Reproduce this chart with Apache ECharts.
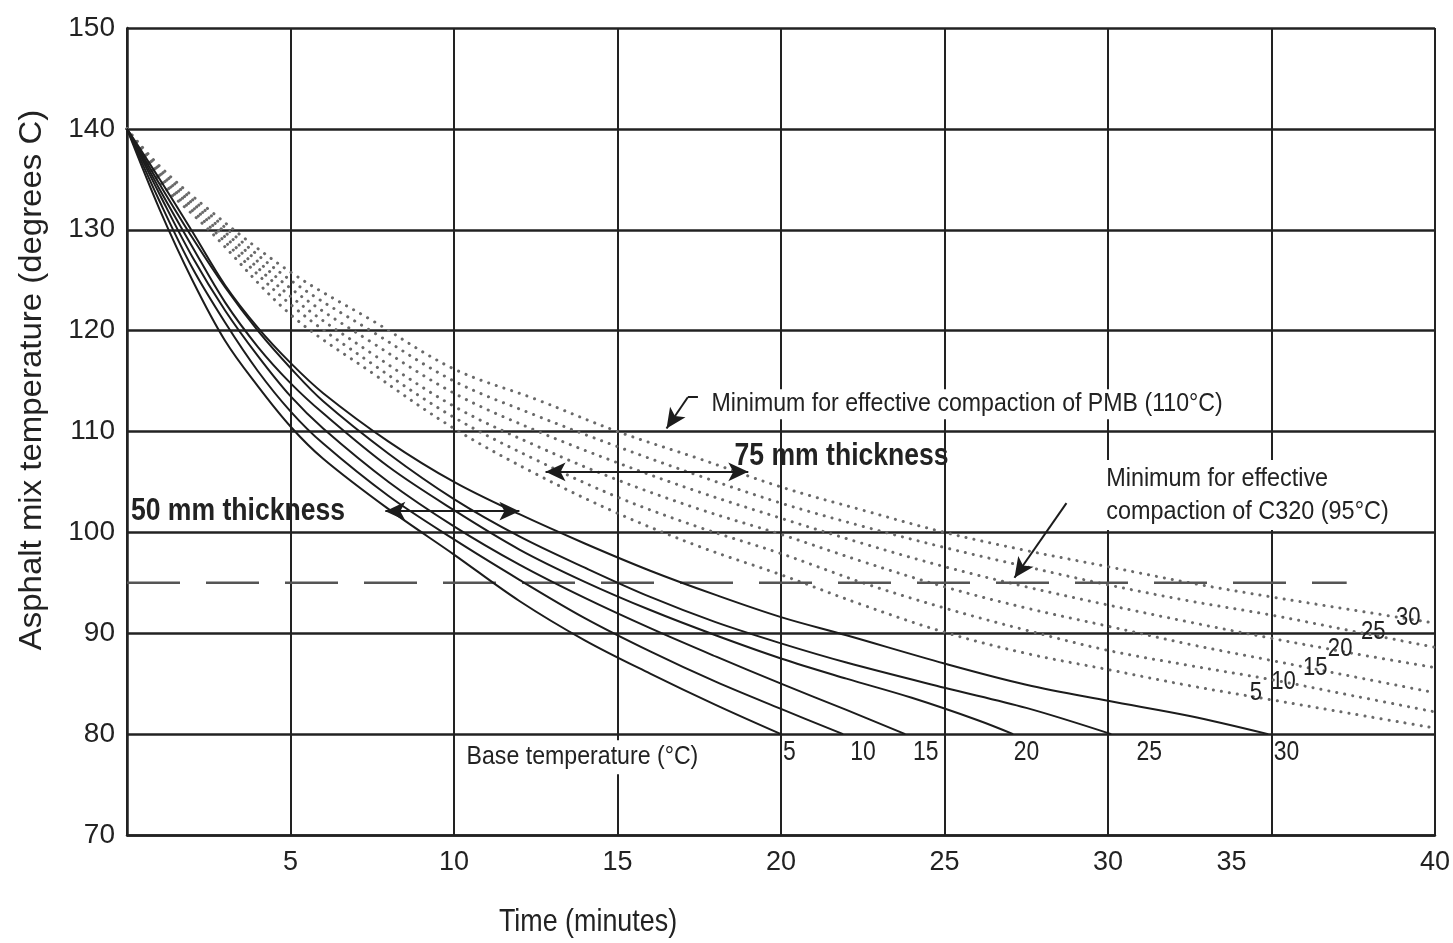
<!DOCTYPE html>
<html>
<head>
<meta charset="utf-8">
<title>Asphalt mix temperature vs time</title>
<script src="https://cdn.jsdelivr.net/npm/echarts@6/dist/echarts.min.js"></script>
<style>
html, body { margin: 0; padding: 0; background: #fff; }
#chart { width: 1453px; height: 943px; }
</style>
</head>
<body>
<div id="chart"></div>
<script>
var font = "'Liberation Sans', Arial, sans-serif";

// 50 mm thickness, one curve per base temperature: [minutes, degrees C]
var thin5  = [[0,140],[1,132],[2,125],[3,119],[4,114.5],[5,110.5],[6,107.3],[8,102.3],[10,97.8],[12,93.2],[14,89.3],[16,86],[18,82.9],[20,80]];
var thin10 = [[0,140],[1,132.8],[2,126.2],[3,120.8],[4,116],[5,112],[6,108.8],[8,103.6],[10,99.3],[12,95.3],[14,91.5],[16,88.2],[18,85.2],[20,82.5],[21.9,80]];
var thin15 = [[0,140],[1,133.5],[2,127.3],[3,122],[4,117.5],[5,113.5],[6,110.3],[8,105],[10,100.6],[12,96.8],[14,93.5],[16,90.5],[18,87.7],[20,85],[22,82.4],[23.8,80]];
var thin20 = [[0,140],[1,134],[2,128.3],[3,122.8],[4,118.4],[5,114.8],[6,111.8],[8,106.5],[10,102.2],[12,98.3],[14,95.1],[16,92.3],[18,89.8],[20,87.5],[22,85.5],[24,83.6],[26,81.4],[27.1,80]];
var thin25 = [[0,140],[1,134.5],[2,129.2],[3,124.3],[4,120],[5,116.3],[6,113],[8,107.8],[10,103.3],[12,99.6],[14,96.5],[16,93.6],[18,91.1],[20,89],[22,87.1],[25,84.6],[27.5,82.6],[30.1,80]];
var thin30 = [[0,140],[1,135],[2,129.8],[3,124.5],[4,120.3],[5,116.8],[6,113.8],[8,109],[10,105],[12,101.8],[14,98.9],[16,96.2],[18,93.8],[20,91.6],[22,89.8],[25,87],[27.5,84.9],[30,83.3],[32.5,81.8],[34.9,80]];

// 75 mm thickness
var thick5  = [[0,140],[1,134.8],[2.5,130],[5,121.6],[7.5,115.8],[10,110.3],[12.5,105.8],[15,101.9],[17.5,98.6],[20,95.8],[22.5,92.8],[25,90.1],[27.5,88],[30,86.4],[32.5,84.8],[35,83.4],[37.5,82],[40,80.6]];
var thick10 = [[0,140],[1,135.1],[2.5,130.4],[5,122.6],[7.5,116.7],[10,111.4],[12.5,107.2],[15,103.5],[17.5,100.5],[20,97.9],[22.5,95],[25,92.5],[27.5,90.3],[30,88.3],[32.5,86.8],[35,85.4],[37.5,83.8],[40,82.2]];
var thick15 = [[0,140],[1,135.4],[2.5,130.8],[5,123.4],[7.5,117.7],[10,112.5],[12.5,108.6],[15,105.2],[17.5,102.3],[20,99.8],[22.5,97.1],[25,94.6],[27.5,92.5],[30,90.7],[32.5,88.9],[35,87.3],[37.5,85.7],[40,84.1]];
var thick20 = [[0,140],[1,135.7],[2.5,131.2],[5,124.2],[7.5,118.8],[10,113.8],[12.5,110.1],[15,106.9],[17.5,104],[20,101.4],[22.5,98.9],[25,96.6],[27.5,94.6],[30,92.8],[32.5,91.1],[35,89.5],[37.5,88],[40,86.6]];
var thick25 = [[0,140],[1,136],[2.5,131.6],[5,125],[7.5,119.9],[10,115],[12.5,111.6],[15,108.5],[17.5,105.6],[20,102.9],[22.5,100.6],[25,98.5],[27.5,96.6],[30,94.8],[32.5,93.2],[35,91.8],[37.5,90.2],[40,88.6]];
var thick30 = [[0,140],[1,136.3],[2.5,132],[5,125.8],[7.5,121],[10,116.2],[12.5,113.2],[15,110],[17.5,107.3],[20,104.5],[22.5,102.2],[25,100],[27.5,98.2],[30,96.6],[32.5,95],[35,93.6],[37.5,92.3],[40,91]];

// C320 compaction limit (dashed)
var c320Line = [[0,95],[37.3,95]];

var baseTemps = ['5','10','15','20','25','30'];
var thinCurves = [thin5, thin10, thin15, thin20, thin25, thin30];
var thickCurves = [thick5, thick10, thick15, thick20, thick25, thick30];

var chart = echarts.init(document.getElementById('chart'));

var series = [];
thinCurves.forEach(function (d, i) {
    series.push({
        name: '50 mm ' + baseTemps[i], type: 'line', data: d, smooth: 0.35,
        symbol: 'none', z: 4,
        lineStyle: { color: '#1c1c1c', width: 2 }
    });
});
thickCurves.forEach(function (d, i) {
    series.push({
        name: '75 mm ' + baseTemps[i], type: 'line', data: d, smooth: 0.35,
        symbol: 'none', z: 3,
        lineStyle: { color: '#6a6a6a', width: 3, type: [0.1, 8], cap: 'round' }
    });
});
series.push({
    name: 'C320', type: 'line', data: c320Line, symbol: 'none', z: 3,
    lineStyle: { color: '#555', width: 2.5, type: [53, 26] },
    markLine: {
        silent: true, symbol: ['arrow', 'arrow'], symbolSize: [14, 20],
        label: { show: false },
        lineStyle: { color: '#1c1c1c', width: 2, type: 'solid' },
        data: [
            [{ coord: [7.9, 102.1] }, { coord: [12.0, 102.1] }],
            [{ coord: [12.8, 106.0] }, { coord: [19.0, 106.0] }],
            [{ coord: [17.46, 113.4], symbol: 'none' }, { coord: [17.15, 113.4], symbol: 'none' }],
            [{ coord: [17.15, 113.4], symbol: 'none' }, { coord: [16.5, 110.3], symbol: 'arrow' }],
            [{ coord: [28.73, 102.9], symbol: 'none' }, { coord: [27.14, 95.5], symbol: 'arrow' }]
        ]
    }
});

var option = {
    backgroundColor: '#fff',
    animation: false,
    grid: { left: 127, right: 13, top: 28, bottom: 108 },
    xAxis: {
        type: 'value', min: 0, max: 40, interval: 5,
        axisLine: { lineStyle: { color: '#222', width: 2.5 } },
        axisTick: { show: false },
        splitLine: { lineStyle: { color: '#222', width: 2 } },
        axisLabel: {
            margin: 14, color: '#222', fontSize: 27, fontFamily: font,
            formatter: function (v) {
                if (v === 0) return '';
                if (v === 35) return '{l|35}';
                if (v === 40) return '{u|40}';
                return String(v);
            },
            rich: {
                l: { fontSize: 27, fontFamily: font, color: '#222', padding: [0, 80, 0, 0] },
                u: { fontSize: 27, fontFamily: font, color: '#222', padding: [0, 0, 12, 0] }
            }
        }
    },
    yAxis: {
        type: 'value', min: 70, max: 150, interval: 10,
        axisLine: { show: true, lineStyle: { color: '#222', width: 2.5 } },
        axisTick: { show: false },
        splitLine: { lineStyle: { color: '#222', width: 2.5 } },
        axisLabel: { margin: 12, color: '#222', fontSize: 28, fontFamily: font }
    },
    series: series
};
chart.setOption(option);

function px(t, T) { return chart.convertToPixel({ gridIndex: 0 }, [t, T]); }

// text placed at a data position, squeezed horizontally like the condensed original type
function label(t, T, text, style, align, squeeze) {
    var p = px(t, T);
    return {
        type: 'text', x: p[0], y: p[1], z: 100, scaleX: squeeze || 0.88,
        style: Object.assign({
            text: text, fill: '#222', align: align || 'left', verticalAlign: 'middle',
            fontFamily: font
        }, style)
    };
}

var note = { fontSize: 26 };
var bold = { fontSize: 32, fontWeight: 'bold' };
var small = { fontSize: 27 };

var graphics = [
    label(0.12, 102.1, '50 mm thickness', bold, 'left', 0.83),
    label(18.58, 107.6, '75 mm thickness', bold, 'left', 0.83),
    label(17.82, 112.7, 'Minimum for effective compaction of PMB (110°C)',
        Object.assign({ backgroundColor: '#fff', padding: [2, 2] }, note), 'left', 0.89),
    label(29.89, 103.7, 'Minimum for effective\ncompaction of C320 (95°C)',
        Object.assign({ backgroundColor: '#fff', padding: [2, 2], lineHeight: 33 }, note), 'left', 0.9),
    label(10.33, 77.7, 'Base temperature (°C)',
        Object.assign({ backgroundColor: '#fff', padding: [4, 2] }, note), 'left', 0.89)
];

var baseX = [20.26, 22.51, 24.43, 27.51, 31.26, 35.46];
baseTemps.forEach(function (b, i) {
    graphics.push(label(baseX[i], 78.2, b, small, 'center', 0.85));
});
var endX = [34.52, 35.37, 36.34, 37.1, 38.11, 39.18];
var endY = [84.1, 85.2, 86.6, 88.5, 90.1, 91.5];
baseTemps.forEach(function (b, i) {
    graphics.push(label(endX[i], endY[i], b, note, 'center', 0.85));
});

graphics.push({
    type: 'text', x: 32, y: 380, rotation: Math.PI / 2, z: 100, scaleX: 1.03,
    style: { text: 'Asphalt mix temperature (degrees C)', fill: '#222', fontSize: 32,
        fontFamily: font, align: 'center', verticalAlign: 'middle' }
});
graphics.push({
    type: 'text', x: 588, y: 922, z: 100, scaleX: 0.84,
    style: { text: 'Time (minutes)', fill: '#222', fontSize: 32,
        fontFamily: font, align: 'center', verticalAlign: 'middle' }
});

chart.setOption({ graphic: graphics });
</script>
</body>
</html>
